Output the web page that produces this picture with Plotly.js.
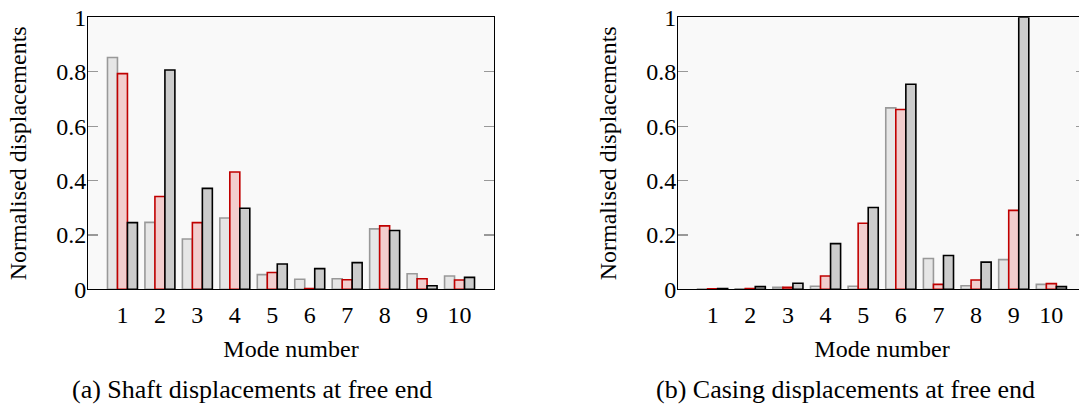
<!DOCTYPE html>
<html><head><meta charset="utf-8">
<script src="https://cdn.plot.ly/plotly-3.0.1.min.js"></script>
<style>html,body{margin:0;padding:0;overflow:hidden;background:#fff}#chart{width:1100px;height:406px}</style>
</head><body><div id="chart"></div>
<script>
const modes = [1,2,3,4,5,6,7,8,9,10];
const shaftGrey  = [0.852, 0.246, 0.185, 0.262, 0.054, 0.037, 0.039, 0.222, 0.057, 0.049];
const shaftRed   = [0.793, 0.341, 0.245, 0.431, 0.062, 0.003, 0.035, 0.233, 0.039, 0.034];
const shaftBlack = [0.245, 0.806, 0.371, 0.298, 0.093, 0.076, 0.098, 0.216, 0.013, 0.044];
const casingGrey  = [0.001, 0.002, 0.007, 0.011, 0.011, 0.667, 0.113, 0.013, 0.109, 0.018];
const casingRed   = [0.002, 0.003, 0.007, 0.049, 0.243, 0.661, 0.018, 0.034, 0.290, 0.021];
const casingBlack = [0.003, 0.010, 0.022, 0.168, 0.301, 0.754, 0.124, 0.100, 1.000, 0.010];
const yTickVals = [0, 0.2, 0.4, 0.6, 0.8, 1];
const yTickText = ['0', '0.2', '0.4', '0.6', '0.8', '1'];
const xTickText = ['1','2','3','4','5','6','7','8','9','10'];
const yTitle = 'Normalised displacements';
const xTitle = 'Mode number';
const captionA = '(a) Shaft displacements at free end';
const captionB = '(b) Casing displacements at free end';

const FONT = '"Liberation Serif", "Times New Roman", Times, serif';
const FS = 24;
const W = 1100, H = 406;
const styles = [
  {fill: '#e6e6e6', line: '#999999'},
  {fill: '#f2cdcd', line: '#c00000'},
  {fill: '#cccccc', line: '#000000'}
];
function mk(y, i, xa, ya) {
  return {type: 'bar', x: modes, y: y, xaxis: xa, yaxis: ya, showlegend: false,
    marker: {color: styles[i].fill, line: {color: styles[i].line, width: 1.6}},
    hoverinfo: 'x+y'};
}
const data = [
  mk(shaftGrey, 0, 'x', 'y'), mk(shaftRed, 1, 'x', 'y'), mk(shaftBlack, 2, 'x', 'y'),
  mk(casingGrey, 0, 'x2', 'y2'), mk(casingRed, 1, 'x2', 'y2'), mk(casingBlack, 2, 'x2', 'y2')
];
const yDom = [1 - 289.3 / H, 1 - 17.3 / H];
function xax(dom, anchor) {
  return {domain: dom, anchor: anchor, range: [0.08, 10.92], tickvals: modes, ticktext: xTickText,
    ticks: '', showline: true, linecolor: '#000', linewidth: 1, mirror: true, showgrid: false, zeroline: false,
    tickfont: {family: FONT, size: FS, color: '#000'}, ticklabelstandoff: 4,
    title: {text: xTitle, font: {family: FONT, size: FS, color: '#000'}, standoff: 13}, fixedrange: true};
}
function yax(anchor) {
  return {domain: yDom, anchor: anchor, range: [0, 1], tickvals: yTickVals, ticktext: yTickText,
    ticks: 'inside', ticklen: 10, tickcolor: '#999999', tickwidth: 1.2,
    showline: true, linecolor: '#000', linewidth: 1, mirror: 'ticks', showgrid: false, zeroline: false,
    tickfont: {family: FONT, size: FS, color: '#000'}, ticklabelstandoff: -4,
    title: {text: yTitle, font: {family: FONT, size: FS, color: '#000'}, standoff: 22}, fixedrange: true};
}
const layout = {
  width: W, height: H, autosize: false,
  margin: {l: 0, r: 0, t: 0, b: 0, pad: 0},
  paper_bgcolor: '#ffffff', plot_bgcolor: '#f9f9f9',
  barmode: 'group', bargap: 0.2, bargroupgap: 0,
  xaxis: xax([88 / W, 494 / W], 'y'),
  yaxis: yax('x'),
  xaxis2: xax([678 / W, 1086 / W], 'y2'),
  yaxis2: yax('x2'),
  annotations: [
    {text: captionA, xref: 'paper', yref: 'paper', x: 252 / W, y: 1 - 389 / H, xanchor: 'center', yanchor: 'middle',
     showarrow: false, font: {family: FONT, size: 26, color: '#000'}},
    {text: captionB, xref: 'paper', yref: 'paper', x: 845 / W, y: 1 - 389 / H, xanchor: 'center', yanchor: 'middle',
     showarrow: false, font: {family: FONT, size: 26, color: '#000'}}
  ]
};
Plotly.newPlot('chart', data, layout, {displayModeBar: false, staticPlot: true});
</script></body></html>
